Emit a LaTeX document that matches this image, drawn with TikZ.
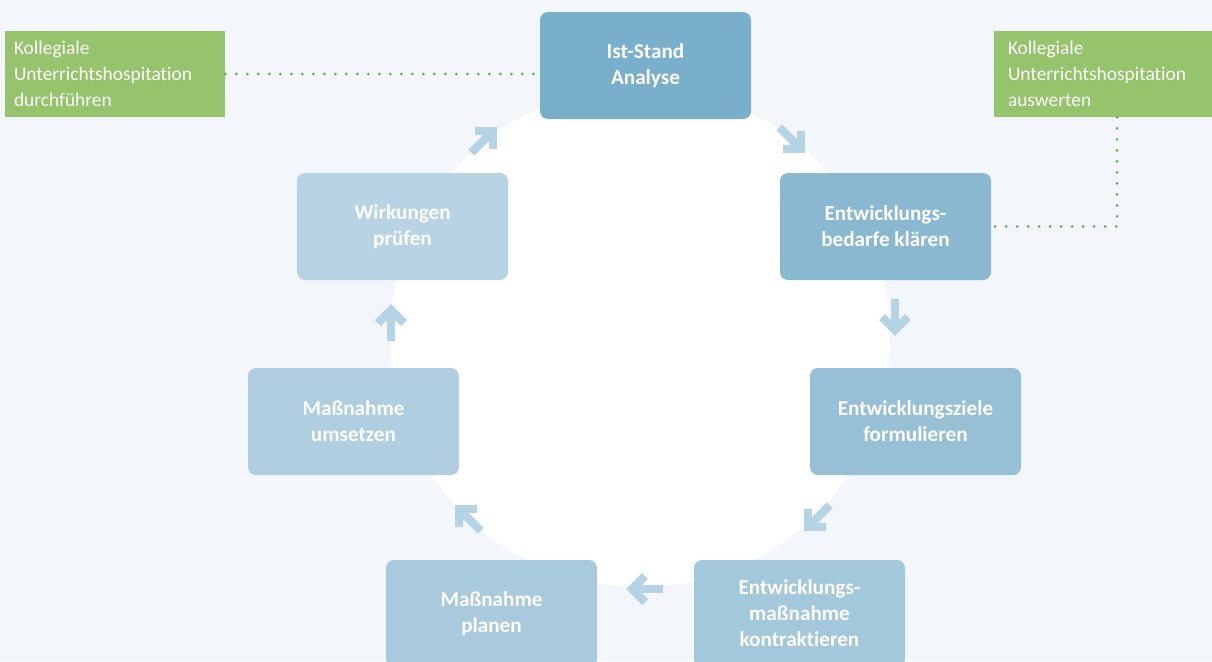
\documentclass[tikz,border=0pt]{standalone}
\usepackage{fontspec}
\setmainfont{Carlito}[Ligatures=NoCommon]
\usepackage{tikz}

\definecolor{bgblue}{HTML}{F3F7FB}
\definecolor{arrowblue}{HTML}{B4D3E5}
\definecolor{hospgreen}{HTML}{95C46C}
\definecolor{dotgreen}{HTML}{5DB345}
\definecolor{stepA}{HTML}{7AAFCB}
\definecolor{stepB}{HTML}{89B8D0}
\definecolor{stepC}{HTML}{97C0D6}
\definecolor{stepD}{HTML}{A3C7DB}
\definecolor{stepE}{HTML}{A9CADD}
\definecolor{stepF}{HTML}{AFCEE0}
\definecolor{stepG}{HTML}{B7D3E4}

\tikzset{
  stepbox/.style={rectangle, rounded corners=4pt, minimum width=105.5pt, minimum height=53.5pt,
    text=white, align=center, font=\bfseries\fontsize{10.6}{13}\selectfont},
  hospbox/.style={rectangle, fill=hospgreen, minimum height=43pt, text=white, align=left,
    font=\fontsize{9.7}{13}\selectfont},
  hospline/.style={dotgreen, line width=1.5pt, line cap=round, dash pattern=on 0pt off 5.5pt},
  arrowline/.style={arrowblue, line width=4.2pt, miter limit=10},
  flowarrow/.pic={
    \draw[arrowline] (-18,0) -- (12,0);
    \draw[arrowline] (0,-13) -- (13,0) -- (0,13);
  }
}

\begin{document}
\begin{tikzpicture}[x=0.5pt, y=-0.5pt]
\useasboundingbox (0,0) rectangle (1212,661);
\clip (0,0) rectangle (1212,661);
\fill[bgblue] (0,0) rectangle (1212,661);
\fill[white] (640,337) circle[radius=250];

% Zyklus
\node[stepbox, fill=stepA] (IstStand) at (645.5,65.5) {Ist-Stand\\Analyse};
\node[stepbox, fill=stepB] (EntwBedarf) at (885.5,226.5) {Entwicklungs-\\bedarfe klären};
\node[stepbox, fill=stepC] (EntwZiele) at (915.5,421.5) {Entwicklungsziele\\formulieren};
\node[stepbox, fill=stepD] (EntwMassn) at (799.5,613.5) {Entwicklungs-\\maßnahme\\kontraktieren};
\node[stepbox, fill=stepE] (MassnPlanen) at (491.5,613.5) {Maßnahme\\planen};
\node[stepbox, fill=stepF] (MassnUmsetzen) at (353.5,421.5) {Maßnahme\\umsetzen};
\node[stepbox, fill=stepG] (Wirkungen) at (402.5,226.5) {Wirkungen\\prüfen};

% Pfeile
\pic[rotate=45] at (484,140) {flowarrow};
\pic[rotate=-45] at (792,140) {flowarrow};
\pic[rotate=-90] at (895,317) {flowarrow};
\pic[rotate=-135] at (817,518) {flowarrow};
\pic[rotate=180] at (645,589) {flowarrow};
\pic[rotate=135] at (468,518) {flowarrow};
\pic[rotate=90] at (391,323) {flowarrow};

% Hospitation
\node[hospbox, text width=101pt, inner xsep=4.5pt] (HospDurch) at (115,74)
  {Kollegiale\\Unterrichtshospitation\\durchführen};
\node[hospbox, text width=109pt, inner xsep=7pt] (HospAusw) at (1117,74)
  {Kollegiale\\Unterrichtshospitation\\auswerten};

\draw[hospline] (HospDurch.east) -- (HospDurch.east -| IstStand.west);
\draw[hospline] (HospAusw.south) |- (EntwBedarf.east);
\end{tikzpicture}
\end{document}
